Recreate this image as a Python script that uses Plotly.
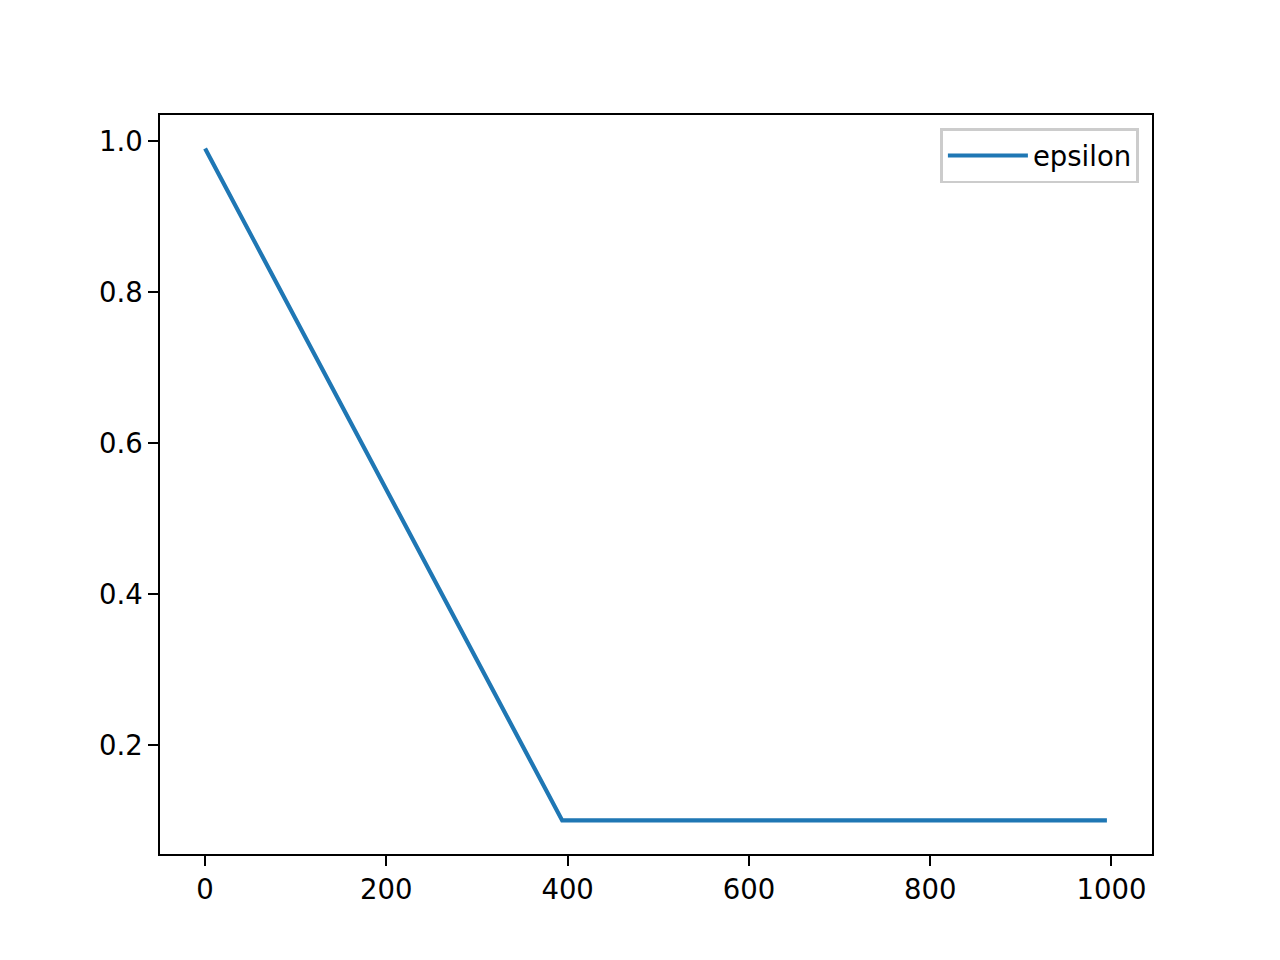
import plotly.graph_objects as go

# data
steps = [0, 394, 995]
epsilon = [0.99, 0.1, 0.1]
x_ticks = [0, 200, 400, 600, 800, 1000]
y_ticks = [0.2, 0.4, 0.6, 0.8, 1.0]
y_tick_labels = ["0.2", "0.4", "0.6", "0.8", "1.0"]

FS = 27.5  # ~10pt at 200 dpi

fig = go.Figure()
fig.add_trace(go.Scatter(x=steps, y=epsilon, mode="lines", name="epsilon",
                         line=dict(color="#1f77b4", width=4.2)))

axis_common = dict(showgrid=False, zeroline=False, showline=True, linecolor="black",
                   linewidth=2.2, mirror=True, ticks="outside", ticklen=9.7,
                   tickwidth=2.2, tickcolor="black",
                   tickfont=dict(family="DejaVu Sans", size=FS, color="black"))

# page body adds an 8px offset; compensate so the axes land where the reference has them
fig.update_layout(
    width=1272, height=952,
    margin=dict(l=152, r=128, t=107, b=106, pad=0),
    paper_bgcolor="white", plot_bgcolor="white",
    font=dict(family="DejaVu Sans", size=FS, color="black"),
    xaxis=dict(range=[-49.75, 1044.75], tickvals=x_ticks, **axis_common),
    yaxis=dict(range=[0.0555, 1.0345], tickvals=y_ticks, ticktext=y_tick_labels,
               **axis_common),
    showlegend=True,
    legend=dict(x=0.987, y=0.982, xanchor="right", yanchor="top",
                bgcolor="rgba(255,255,255,0.8)", bordercolor="#cccccc", borderwidth=2.8,
                itemwidth=80,
                font=dict(family="DejaVu Sans", size=FS, color="black")),
)

fig.write_html("out.html")
